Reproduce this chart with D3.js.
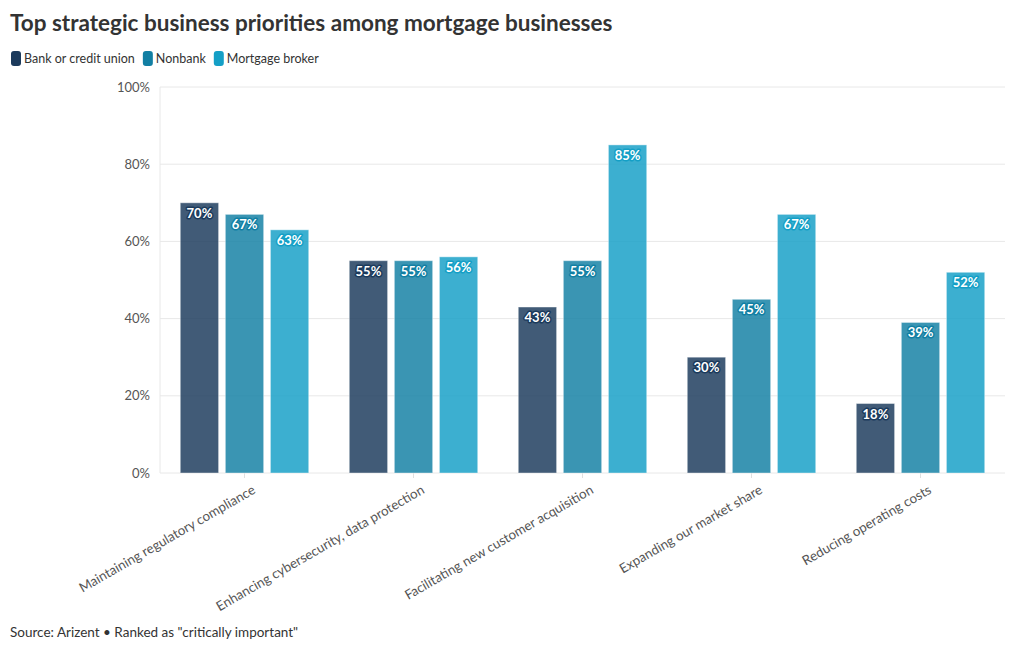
<!DOCTYPE html>
<html><head><meta charset="utf-8">
<script src="https://cdn.jsdelivr.net/npm/d3@7"></script>
<style>
body{margin:0;background:#fff;font-family:Lato,"Noto Sans",sans-serif;}
</style></head>
<body><svg id="c" width="1020" height="650"></svg>
<script>
const categories = ["Maintaining regulatory compliance","Enhancing cybersecurity, data protection","Facilitating new customer acquisition","Expanding our market share","Reducing operating costs"];
const seriesNames = ["Bank or credit union","Nonbank","Mortgage broker"];
const bankValues = [70,55,43,30,18];
const nonbankValues = [67,55,55,45,39];
const brokerValues = [63,56,85,67,52];
const yTicks = [0,20,40,60,80,100];
const colors = ["#1b3a5c","#127fa3","#149fc6"];
const seriesValues = [bankValues, nonbankValues, brokerValues];

(function(){
const svg = d3.select("#c");
const font = "Lato, 'Noto Sans', sans-serif";
svg.append("text").attr("x",10).attr("y",31).attr("font-family",font).attr("font-weight",700)
  .attr("font-size",22.5).attr("fill","#333").text("Top strategic business priorities among mortgage businesses");

// legend
let lx = 11;
const lg = svg.append("g");
seriesNames.forEach((n,i)=>{
  lg.append("rect").attr("x",lx).attr("y",51).attr("width",10).attr("height",15).attr("rx",3).attr("fill",colors[i]);
  const t = lg.append("text").attr("x",lx+13).attr("y",63).attr("font-family",font).attr("font-size",12.5).attr("fill","#333").text(n);
  lx += 13 + t.node().getComputedTextLength() + 8;
});

const pLeft=160, pRight=1005, pTop=87, pBottom=473;
const x0 = d3.scaleBand().domain(categories).range([pLeft,pRight]).paddingInner(0.24).paddingOuter(0.12);
const x1 = d3.scaleBand().domain(seriesNames).range([0,x0.bandwidth()]).paddingInner(0.15);
const y = d3.scaleLinear().domain([0,100]).range([pBottom,pTop]);

// grid
const g = svg.append("g");
g.selectAll("line.grid").data(yTicks).join("line").attr("x1",pLeft).attr("x2",pRight)
  .attr("y1",d=>y(d)).attr("y2",d=>y(d)).attr("stroke","#e8e8e8").attr("stroke-width",1);
g.append("line").attr("x1",pLeft).attr("x2",pLeft).attr("y1",pTop).attr("y2",pBottom).attr("stroke","#e8e8e8");

const yAxis = svg.append("g").attr("transform",`translate(${pLeft},0)`)
  .call(d3.axisLeft(y).tickValues(yTicks).tickFormat(d=>d+"%").tickSize(0).tickPadding(10));
yAxis.select(".domain").remove();
yAxis.selectAll("text").attr("font-family",font).attr("font-size",13).attr("fill","#555");

const xAxis = svg.append("g").attr("transform",`translate(0,${pBottom})`)
  .call(d3.axisBottom(x0).tickSize(5).tickPadding(4));
xAxis.select(".domain").remove();
xAxis.selectAll(".tick line").attr("stroke","#e0e0e0");
xAxis.selectAll("text").attr("font-family",font).attr("font-size",13.3).attr("fill","#555")
  .attr("text-anchor","end").attr("transform","translate(4,6) rotate(-30)").attr("dy","0.5em");

// bars
categories.forEach((c,ci)=>{
  seriesNames.forEach((s,si)=>{
    const v = seriesValues[si][ci];
    const bx = x0(c)+x1(s), bw = x1.bandwidth();
    svg.append("rect").attr("x",bx).attr("y",y(v)).attr("width",bw).attr("height",y(0)-y(v))
      .attr("fill",colors[si]).attr("fill-opacity",0.83).attr("stroke","#fff").attr("stroke-opacity",0.4);
    svg.append("text").attr("x",bx+bw/2).attr("y",y(v)+15).attr("text-anchor","middle")
      .attr("font-family",font).attr("font-weight",700).attr("font-size",13).attr("fill","#fff")
      .attr("stroke",colors[si]).attr("stroke-width",3).attr("paint-order","stroke").attr("stroke-linejoin","round")
      .text(v+"%");
  });
});

svg.append("text").attr("x",10).attr("y",637).attr("font-family",font).attr("font-size",13.5).attr("fill","#333")
  .text("Source: Arizent \u2022 Ranked as \"critically important\"");
})();
</script></body></html>
